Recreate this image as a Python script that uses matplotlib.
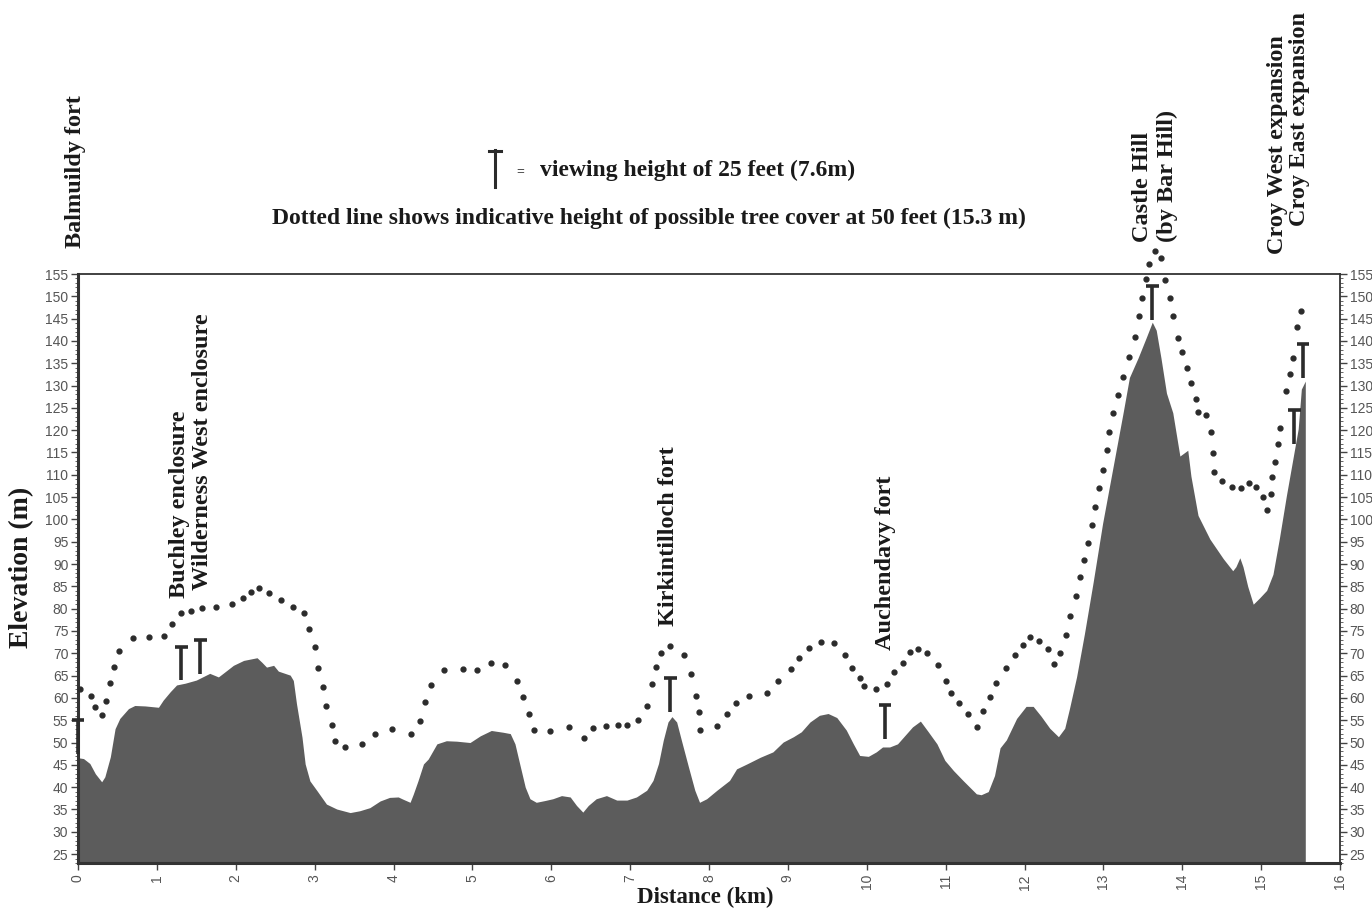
import matplotlib
matplotlib.use("Agg")
import matplotlib.pyplot as plt
from matplotlib.lines import Line2D
from matplotlib.ticker import MultipleLocator

# ground profile along the route (km, m)
prof_km = [0.0, 0.07, 0.15, 0.22, 0.30, 0.34, 0.41, 0.47, 0.53, 0.64, 0.72, 0.85,
           1.02, 1.08, 1.17, 1.25, 1.36, 1.50, 1.67, 1.78, 1.89, 1.97, 2.10, 2.27,
           2.33, 2.39, 2.48, 2.54, 2.69, 2.73, 2.77, 2.84, 2.88, 2.94, 3.03, 3.15,
           3.28, 3.45, 3.57, 3.70, 3.83, 3.95, 4.06, 4.12, 4.21, 4.25, 4.31, 4.38,
           4.44, 4.55, 4.67, 4.80, 4.97, 5.10, 5.24, 5.39, 5.48, 5.54, 5.60, 5.67,
           5.73, 5.81, 5.92, 6.02, 6.13, 6.24, 6.32, 6.40, 6.47, 6.57, 6.70, 6.83,
           6.96, 7.08, 7.21, 7.29, 7.36, 7.42, 7.48, 7.53, 7.59, 7.65, 7.74, 7.82,
           7.88, 7.97, 8.10, 8.26, 8.35, 8.48, 8.65, 8.81, 8.94, 9.07, 9.17, 9.28,
           9.40, 9.51, 9.62, 9.74, 9.83, 9.91, 10.02, 10.12, 10.20, 10.29, 10.39,
           10.47, 10.58, 10.68, 10.78, 10.89, 10.99, 11.10, 11.22, 11.39, 11.45,
           11.54, 11.62, 11.69, 11.77, 11.90, 12.02, 12.11, 12.21, 12.32, 12.43,
           12.51, 12.57, 12.66, 12.76, 12.87, 12.99, 13.12, 13.25, 13.33, 13.44,
           13.54, 13.62, 13.67, 13.73, 13.80, 13.88, 13.97, 14.07, 14.11, 14.20,
           14.35, 14.52, 14.64, 14.68, 14.73, 14.77, 14.83, 14.90, 14.98, 15.07,
           15.15, 15.23, 15.32, 15.40, 15.47, 15.51, 15.56]
prof_m = [46.6, 46.4, 45.3, 43.0, 41.2, 42.3, 46.8, 53.1, 55.4, 57.6, 58.3, 58.2,
          57.9, 59.5, 61.4, 62.9, 63.3, 64.0, 65.5, 64.7, 66.2, 67.3, 68.4, 69.0,
          68.0, 66.9, 67.3, 66.0, 65.1, 63.9, 58.7, 51.2, 45.2, 41.4, 39.2, 36.2,
          35.1, 34.3, 34.7, 35.4, 36.9, 37.7, 37.8, 37.3, 36.6, 38.4, 41.4, 45.2,
          46.3, 49.7, 50.4, 50.3, 50.0, 51.5, 52.7, 52.3, 52.0, 49.7, 45.2, 40.0,
          37.4, 36.6, 37.0, 37.4, 38.1, 37.8, 35.9, 34.4, 35.9, 37.4, 38.1, 37.1,
          37.1, 37.8, 39.3, 41.5, 45.3, 50.5, 54.6, 55.8, 54.6, 50.5, 44.5, 39.3,
          36.6, 37.4, 39.3, 41.5, 44.1, 45.2, 46.7, 47.9, 50.1, 51.3, 52.4, 54.6,
          56.1, 56.5, 55.6, 52.8, 49.7, 47.1, 46.9, 47.9, 49.0, 49.0, 49.7,
          51.3, 53.5, 54.8, 52.4, 49.7, 46.0, 43.7, 41.5, 38.5, 38.3,
          39.0, 42.6, 48.8, 50.6, 55.4, 58.1, 58.1, 55.9, 53.2, 51.3,
          53.2, 57.6, 64.7, 74.4, 85.9, 99.1, 111.5, 123.9, 131.8, 136.2,
          140.6, 144.2, 142.4, 136.2, 128.3, 123.9, 114.2, 115.5, 109.7, 100.9,
          95.6, 91.2, 88.5, 89.4, 91.4, 89.4, 85.0, 81.0, 82.4, 84.1,
          87.7, 95.6, 105.3, 113.3, 120.3, 129.2, 131.0]

# dotted line: indicative tree cover height (km, m)
tree_km = [0.02, 0.16, 0.22, 0.31, 0.35, 0.41, 0.46, 0.52, 0.70, 0.90, 1.09, 1.19,
           1.30, 1.43, 1.57, 1.75, 1.95, 2.09, 2.19, 2.29, 2.42, 2.57, 2.73, 2.86,
           2.93, 3.00, 3.04, 3.11, 3.15, 3.22, 3.26, 3.39, 3.60, 3.76, 3.98, 4.22,
           4.33, 4.40, 4.48, 4.64, 4.88, 5.06, 5.24, 5.41, 5.56, 5.64, 5.72, 5.78,
           5.99, 6.23, 6.42, 6.53, 6.70, 6.85, 6.96, 7.10, 7.22, 7.28, 7.33, 7.39,
           7.51, 7.68, 7.77, 7.83, 7.87, 7.88, 8.10, 8.23, 8.34, 8.51, 8.73, 8.88,
           9.04, 9.14, 9.27, 9.42, 9.59, 9.73, 9.81, 9.91, 9.96, 10.12, 10.26,
           10.35, 10.46, 10.55, 10.65, 10.77, 10.90, 11.01, 11.07, 11.17, 11.28,
           11.40, 11.48, 11.56, 11.64, 11.76, 11.88, 11.98, 12.07, 12.19, 12.30,
           12.38, 12.45, 12.53, 12.58, 12.65, 12.70, 12.75, 12.81, 12.86, 12.89,
           12.95, 12.99, 13.04, 13.07, 13.12, 13.18, 13.25, 13.33, 13.40, 13.45,
           13.49, 13.54, 13.58, 13.65, 13.73, 13.78, 13.85, 13.88, 13.94, 14.00,
           14.06, 14.11, 14.17, 14.20, 14.30, 14.37, 14.39, 14.40, 14.51, 14.63,
           14.74, 14.84, 14.94, 15.02, 15.07, 15.12, 15.14, 15.18, 15.21, 15.24,
           15.31, 15.36, 15.40, 15.46, 15.50]
tree_m = [62.1, 60.4, 57.9, 56.2, 59.3, 63.4, 67.0, 70.6, 73.4, 73.7, 73.9, 76.6,
          79.0, 79.4, 80.1, 80.4, 81.0, 82.4, 83.7, 84.7, 83.5, 82.0, 80.4, 79.1,
          75.4, 71.3, 66.6, 62.4, 58.1, 54.0, 50.3, 49.0, 49.6, 52.0, 53.0, 51.9,
          54.8, 59.1, 62.9, 66.2, 66.5, 66.2, 67.9, 67.4, 63.8, 60.1, 56.3, 52.8,
          52.6, 53.5, 51.0, 53.3, 53.8, 53.9, 54.0, 55.0, 58.2, 63.2, 67.0, 70.1,
          71.7, 69.6, 65.3, 60.5, 56.8, 52.7, 53.6, 56.5, 58.9, 60.5, 61.2, 63.8,
          66.5, 69.0, 71.1, 72.5, 72.3, 69.6, 66.6, 64.5, 62.7, 62.0, 63.2,
          65.7, 67.9, 70.2, 71.0, 70.0, 67.4, 63.8, 61.2, 58.9, 56.5,
          53.4, 57.0, 60.3, 63.4, 66.6, 69.6, 71.8, 73.7, 72.8, 70.9,
          67.5, 70.0, 74.2, 78.4, 82.8, 87.0, 90.8, 94.7, 98.7, 102.8,
          107.1, 111.1, 115.5, 119.5, 123.9, 127.8, 132.0, 136.5, 140.8, 145.5,
          149.7, 153.9, 157.2, 160.2, 158.5, 153.6, 149.7, 145.5, 140.6, 137.5,
          134.0, 130.5, 127.0, 124.0, 123.3, 119.7, 114.9, 110.6, 108.7, 107.3,
          107.1, 108.2, 107.3, 105.1, 102.0, 105.6, 109.5, 112.8, 116.8, 120.5,
          128.7, 132.7, 136.2, 143.1, 146.6]

# viewing points: position and top of the 7.6 m viewing height
view_km = [0.0, 1.31, 1.55, 7.51, 10.23, 13.62, 15.42, 15.53]
view_top = [55.0, 71.5, 73.0, 64.4, 58.4, 152.3, 124.6, 139.3]
VIEW_H = 7.6

# site labels: text, x (px), bottom y (px)
site_names = ["Balmuildy fort", "Buchley enclosure", "Wilderness West enclosure",
              "Kirkintilloch fort", "Auchendavy fort", "Castle Hill", "(by Bar Hill)",
              "Croy West expansion", "Croy East expansion"]
site_px = [75, 179, 203, 668, 885, 1142, 1167, 1277, 1300]
site_py = [248, 598, 590, 626, 650, 242, 242, 254, 226]

W, H = 1372, 915
serif = "Liberation Serif"
sans = "Liberation Sans"
dark = "#2b2b2b"
ink = "#1a1a1a"

fig = plt.figure(figsize=(W / 100, H / 100), dpi=100)
ax = fig.add_axes([78 / W, 1 - 863 / H, (1340 - 78) / W, (863 - 274) / H])

ax.fill_between(prof_km, prof_m, 0, color="#5c5c5c", lw=0, zorder=2)
ax.plot(tree_km, tree_m, "o", ms=3.5, color=dark, lw=0, clip_on=False, zorder=4)

for x, top in zip(view_km, view_top):
    ax.plot([x, x], [top - VIEW_H, top], color=dark, lw=2.6,
            solid_capstyle="butt", clip_on=False, zorder=5)
    ax.plot([x - 0.08, x + 0.08], [top, top], color=dark, lw=2.6,
            solid_capstyle="butt", clip_on=False, zorder=5)

ax.set_xlim(0, 16)
ax.set_ylim(23, 155)
ax.xaxis.set_major_locator(MultipleLocator(1))
ax.yaxis.set_major_locator(MultipleLocator(5))
ax.yaxis.set_minor_locator(MultipleLocator(1))
ax.tick_params(axis="both", which="major", labelsize=10, labelcolor="#555555",
               color="#444444", length=5, width=1)
ax.tick_params(axis="y", which="minor", length=2.5, color="#666666", width=0.7)
ax.tick_params(axis="y", which="both", left=True, right=True, labelleft=True, labelright=True)
ax.tick_params(axis="y", pad=2)
ax.tick_params(axis="x", pad=3)
for lab in ax.get_xticklabels():
    lab.set_rotation(90)
    lab.set_fontfamily(sans)
for lab in ax.get_yticklabels():
    lab.set_fontfamily(sans)

for side, lw in [("left", 2.2), ("bottom", 2.2), ("top", 1.3), ("right", 1.3)]:
    ax.spines[side].set_color("#333333")
    ax.spines[side].set_linewidth(lw)

# site labels
for name, px, py in zip(site_names, site_px, site_py):
    fig.text(px / W, 1 - py / H, name, rotation=90, ha="center", va="bottom",
             fontsize=17.5, fontweight="bold", family=serif, color=ink)

# legend lines at top
fig.add_artist(Line2D([495 / W, 495 / W], [1 - 150 / H, 1 - 187 / H],
                      color=dark, lw=2.2, transform=fig.transFigure))
fig.add_artist(Line2D([489 / W, 501 / W], [1 - 151 / H, 1 - 151 / H],
                      color=dark, lw=2.2, transform=fig.transFigure))
fig.text(520 / W, 1 - 172 / H, "=", ha="center", va="center", fontsize=10,
         family=serif, color=ink)
fig.text(540 / W, 1 - 170 / H, "viewing height of 25 feet (7.6m)", ha="left",
         va="center", fontsize=17, fontweight="bold", family=serif, color=ink)
fig.text(649 / W, 1 - 218 / H,
         "Dotted line shows indicative height of possible tree cover at 50 feet (15.3 m)",
         ha="center", va="center", fontsize=17, fontweight="bold", family=serif,
         color=ink)

# axis titles
fig.text(22 / W, 1 - 567 / H, "Elevation (m)", rotation=90, ha="center", va="center",
         fontsize=20, fontweight="bold", family=serif, color=ink)
fig.text(705 / W, 1 - 897 / H, "Distance (km)", ha="center", va="center",
         fontsize=16.5, fontweight="bold", family=serif, color=ink)

fig.savefig("out.png", dpi=100, facecolor="white")
